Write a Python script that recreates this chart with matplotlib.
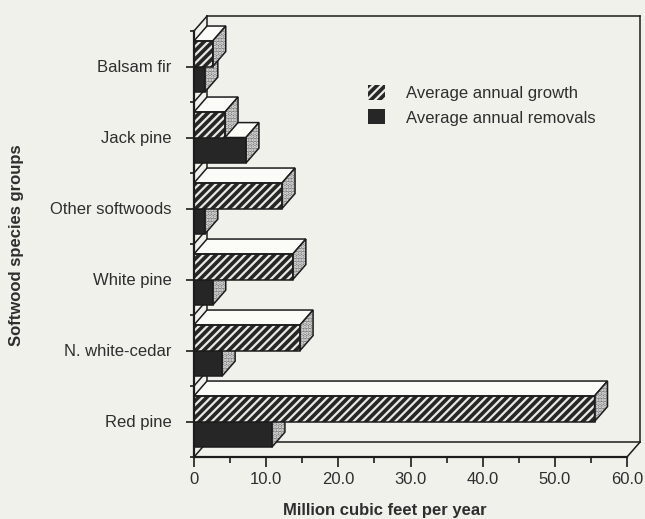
import matplotlib
matplotlib.use("Agg")
import matplotlib.pyplot as plt
from matplotlib.patches import Polygon, Patch
import numpy as np

plt.rcParams['font.family'] = ['Liberation Sans', 'DejaVu Sans']
plt.rcParams['hatch.linewidth'] = 1.6

# Softwood growth and removals (million cubic feet per year)
species = ["Red pine", "N. white-cedar", "White pine", "Other softwoods", "Jack pine", "Balsam fir"]
growth = [55.5, 14.7, 13.7, 12.2, 4.3, 2.6]
removals = [10.8, 3.9, 2.6, 1.5, 7.2, 1.5]
xticks = [0, 10, 20, 30, 40, 50, 60]
xticklabels = ["0", "10.0", "20.0", "30.0", "40.0", "50.0", "60.0"]

BG = '#f1f1ec'
INK = '#1c1c1c'
TXT = '#2e2e2e'
DARK = '#262626'
SIDE = '#7a7a7a'
TOP = '#fbfbf8'

DX, DY = 1.8, 0.21   # oblique depth offset (data units)
BAR_H = 0.36

fig = plt.figure(figsize=(6.45, 5.19), dpi=100, facecolor=BG)
ax = fig.add_axes([194 / 645, 1 - 457 / 519, 433 / 645, 426 / 519])
ax.set_facecolor('none')
ax.set_xlim(0, 60)
ax.set_ylim(-0.5, len(species) - 0.5)

ypos = np.arange(len(species))


def box3d(vals, y0s, front_kw, z):
    """Oblique 3-D bars: front face via barh, plus top and side faces."""
    ax.barh(y0s + BAR_H / 2, vals, height=BAR_H, zorder=z, linewidth=0, **front_kw)
    ax.barh(y0s + BAR_H / 2, vals, height=BAR_H, zorder=z + 0.3,
            facecolor='none', edgecolor=INK, linewidth=1.1)
    for v, y0 in zip(vals, y0s):
        y1 = y0 + BAR_H
        top = [(0, y1), (v, y1), (v + DX, y1 + DY), (DX, y1 + DY)]
        side = [(v, y0), (v + DX, y0 + DY), (v + DX, y1 + DY), (v, y1)]
        ax.add_patch(Polygon(top, closed=True, facecolor=TOP, edgecolor=INK,
                             linewidth=1.1, zorder=z + 0.1, clip_on=False))
        ax.add_patch(Polygon(side, closed=True, facecolor=SIDE, edgecolor='#f0f0f0',
                             hatch='.....', linewidth=0, zorder=z + 0.1, clip_on=False))
        ax.add_patch(Polygon(side, closed=True, facecolor='none', edgecolor=INK,
                             linewidth=1.1, zorder=z + 0.2, clip_on=False))


# removals sit below growth within each species band
box3d(removals, ypos - BAR_H, dict(color=DARK), 3)
box3d(growth, ypos, dict(facecolor=DARK, edgecolor='#e9e9e4', hatch='////'), 5)

# back wall, floor and left wall of the oblique frame
y_lo, y_hi = -0.5, len(species) - 0.5
x_hi = 60
lk = dict(color=INK, linewidth=1.1, clip_on=False, zorder=1)
ax.plot([DX, x_hi + DX], [y_hi + DY, y_hi + DY], **lk)
ax.plot([x_hi + DX, x_hi + DX], [y_lo + DY, y_hi + DY], **lk)
ax.plot([DX, x_hi + DX], [y_lo + DY, y_lo + DY], **lk)
ax.plot([x_hi, x_hi + DX], [y_lo, y_lo + DY], **lk)
ax.plot([DX, DX], [y_lo + DY, y_hi + DY], **lk)
for b in np.arange(y_lo, y_hi + 0.01, 1.0):
    ax.plot([0, DX], [b, b + DY], **lk)

for s in ['top', 'right']:
    ax.spines[s].set_visible(False)
for s in ['left', 'bottom']:
    ax.spines[s].set_color(INK)
    ax.spines[s].set_linewidth(1.6)
    ax.spines[s].set_zorder(8)

ax.set_xticks(xticks, xticklabels)
ax.set_xticks(np.arange(5, 60, 10), minor=True)
ax.set_yticks(ypos, species)
ax.set_yticks(np.arange(y_lo, y_hi + 0.01, 1.0), minor=True)
ax.tick_params(axis='x', which='major', length=7, width=1.2, color=INK,
               labelsize=12, labelcolor=TXT, pad=4)
ax.tick_params(axis='x', which='minor', length=4, width=1.2, color=INK)
ax.tick_params(axis='y', which='major', length=6, width=1.2, color=INK,
               labelsize=12, labelcolor=TXT, pad=10)
ax.tick_params(axis='y', which='minor', length=3, width=1.2, color=INK)

fig.text(385 / 645, 1 - 510 / 519, "Million cubic feet per year", ha='center',
         va='center', fontsize=12, fontweight='bold', color=TXT)
fig.text(17 / 645, 1 - 245 / 519, "Softwood species groups", ha='center',
         va='center', rotation=90, fontsize=12, fontweight='bold', color=TXT)

handles = [Patch(facecolor=DARK, edgecolor='#e9e9e4', hatch='////', linewidth=0),
           Patch(facecolor=DARK, linewidth=0)]
ax.legend(handles, ["Average annual growth", "Average annual removals"],
          loc='upper left', bbox_to_anchor=(368 / 645, 1 - 85 / 519),
          bbox_transform=fig.transFigure, frameon=False, fontsize=12,
          handlelength=1.0, handleheight=1.0, handletextpad=1.3,
          labelspacing=0.5, borderpad=0, borderaxespad=0, labelcolor=TXT)

fig.savefig("out.png", dpi=100, facecolor=BG)
